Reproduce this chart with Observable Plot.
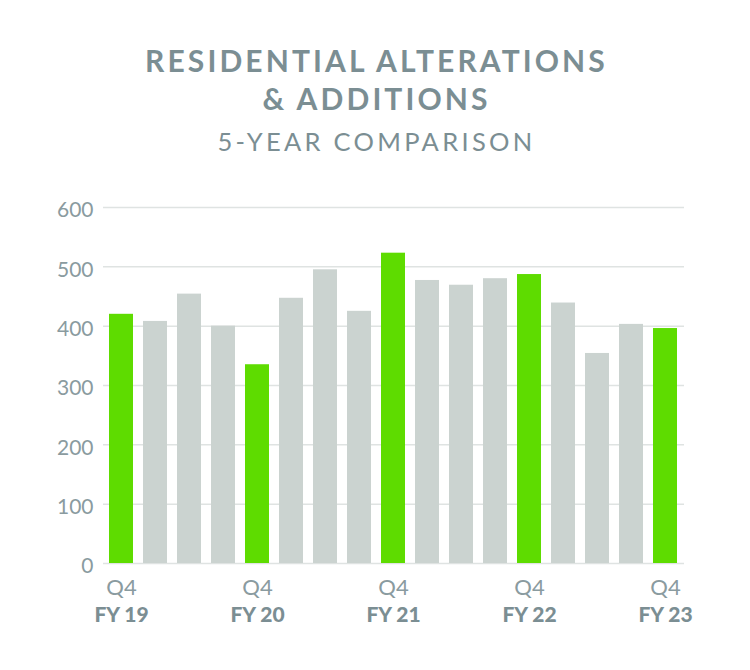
<!DOCTYPE html>
<html>
<head>
<meta charset="utf-8">
<script src="https://cdn.jsdelivr.net/npm/d3@7"></script>
<script src="https://cdn.jsdelivr.net/npm/@observablehq/plot@0.6"></script>
<style>
  html, body { margin: 0; padding: 0; background: #fff; }
  body { width: 750px; height: 670px; overflow: hidden; font-family: Lato, "Open Sans", sans-serif; }
  #header { height: 180px; text-align: center; color: #7b8e93; box-sizing: border-box; padding-top: 41px; }
  .t { font-size: 30px; font-weight: 700; letter-spacing: 3.1px; line-height: 38px; text-indent: 3px; }
  .s { font-size: 25.5px; font-weight: 400; letter-spacing: 3.3px; line-height: 40px; margin-top: 4px; text-indent: 3px; }
</style>
</head>
<body>
<div id="header">
  <div class="t">RESIDENTIAL ALTERATIONS</div>
  <div class="t">&amp; ADDITIONS</div>
  <div class="s">5-YEAR COMPARISON</div>
</div>
<div id="chart"></div>
<script>
const quarters = ["Q4 FY19","Q1 FY20","Q2 FY20","Q3 FY20","Q4 FY20","Q1 FY21","Q2 FY21","Q3 FY21","Q4 FY21","Q1 FY22","Q2 FY22","Q3 FY22","Q4 FY22","Q1 FY23","Q2 FY23","Q3 FY23","Q4 FY23"];
const values = [420, 408, 454, 400, 335, 447, 495, 425, 523, 477, 469, 480, 487, 439, 354, 403, 396];
const yTicks = [0, 100, 200, 300, 400, 500, 600];
const labelQuarters = ["Q4 FY19","Q4 FY20","Q4 FY21","Q4 FY22","Q4 FY23"];
const quarterText = ["Q4","Q4","Q4","Q4","Q4"];
const yearText = ["FY 19","FY 20","FY 21","FY 22","FY 23"];

const green = "#5edc00";
const gray = "#cbd3d0";
const data = quarters.map((q, i) => ({q, v: values[i], hi: q.startsWith("Q4")}));
const labels = labelQuarters.map((q, i) => ({q, qt: quarterText[i], yt: yearText[i]}));

const chart = Plot.plot({
  width: 750,
  height: 490,
  marginTop: 27,
  marginBottom: 107,
  marginLeft: 103,
  marginRight: 66,
  style: {fontFamily: "Lato, 'Open Sans', sans-serif", background: "#fff"},
  x: {domain: quarters, paddingInner: 0.285, paddingOuter: 0.155, axis: null},
  y: {domain: [0, 600], ticks: yTicks, axis: null},
  color: {type: "identity"},
  marks: [
    Plot.gridY(yTicks, {stroke: "#dfe3e2", strokeOpacity: 1, strokeWidth: 1.5}),
    Plot.axisY(yTicks, {tickSize: 0, tickPadding: 10, dy: 3, fontSize: 21, fill: "#8a9b9f", label: null}),
    Plot.barY(data, {x: "q", y: "v", fill: d => d.hi ? green : gray}),
    Plot.text(labels, {x: "q", frameAnchor: "bottom", dy: 24, text: "qt", fontSize: 22, fill: "#8a9b9f", lineAnchor: "middle"}),
    Plot.text(labels, {x: "q", frameAnchor: "bottom", dy: 52, text: "yt", fontSize: 21, fontWeight: 900, fill: "#7b8e93", lineAnchor: "middle", style: "letter-spacing:0.6px"})
  ]
});
document.getElementById("chart").appendChild(chart);
</script>
</body>
</html>
